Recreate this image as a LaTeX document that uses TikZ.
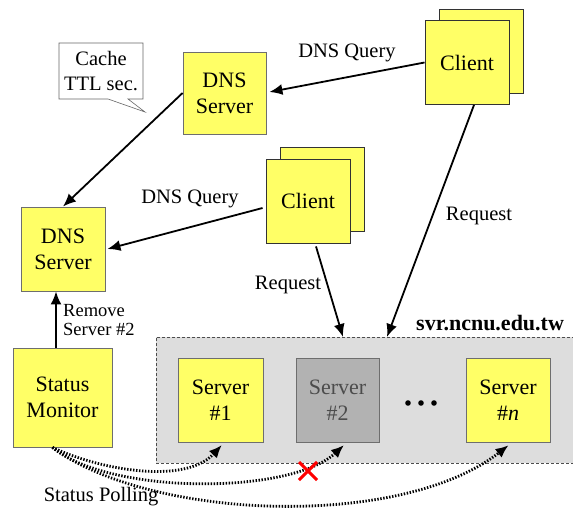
\documentclass[tikz,border=0pt]{standalone}
\usepackage{fontspec}
\setmainfont{Liberation Serif}
\usetikzlibrary{arrows.meta,calc}

\definecolor{boxyellow}{HTML}{FFFF66}
\definecolor{boxedge}{HTML}{6E6E6E}
\definecolor{panelfill}{HTML}{DDDDDD}
\definecolor{downfill}{HTML}{B2B2B2}

\tikzset{
  unit/.style={draw=boxedge, line width=0.9pt, fill=boxyellow, minimum width=84pt,
    minimum height=84pt, inner sep=0pt, align=center,
    font=\fontsize{22}{26}\selectfont},
  downunit/.style={unit, fill=downfill, text=black!70},
  lbl/.style={font=\fontsize{20.5}{24}\selectfont, inner sep=0pt},
  flow/.style={line width=1.8pt, -{Latex[length=13pt,width=11pt]}},
  poll/.style={line width=2.8pt, dash pattern=on 1.4pt off 1.6pt,
    -{Latex[length=13pt,width=11pt]}, shorten >=-2pt},
}

\begin{document}
\begin{tikzpicture}[x=1pt,y=-1pt]
\useasboundingbox (0,0) rectangle (573,508);
\begin{scope}
\clip (0,0) rectangle (573,508);

% server farm behind the domain name
\node[draw=black!70, dash pattern=on 3pt off 2pt, line width=0.7pt, fill=panelfill,
  minimum width=424pt, minimum height=126pt, inner sep=0pt] (farm) at (368,400) {};
\node[anchor=west, font=\fontsize{22}{26}\selectfont\bfseries, inner sep=0pt]
  (farmname) at (416,323) {svr.ncnu.edu.tw};

% clients (stacked boxes)
\node[unit, draw=black!80] (tcback) at (481,51) {};
\node[unit, draw=black!80] (tc) at (467,62.5) {Client};
\node[unit, draw=black!80] (mcback) at (322,189.5) {};
\node[unit, draw=black!80] (mc) at (308,201) {Client};

% DNS servers
\node[unit, minimum width=83pt, minimum height=82pt] (tdns) at (224.5,93) {DNS\\Server};
\node[unit] (ldns) at (63,249) {DNS\\Server};

% status monitor
\node[unit, minimum width=99pt, minimum height=99pt] (sm) at (62.5,397.5) {Status\\Monitor};

% servers
\node[unit, minimum width=85pt] (s1) at (220.5,400) {Server\\\#1};
\node[downunit, minimum width=83pt] (s2) at (337.5,400) {Server\\\#2};
\node[unit] (sn) at (508,400) {Server\\\#\textit{n}};
\foreach \dx [count=\i] in {408,421,434}
  \fill (\dx,403) circle (2.8pt) coordinate (dot\i);

% cache callout
\draw[draw=black!60, fill=white, line width=0.6pt]
  (59,43) -- (143,43) -- (143,99) -- (128,99) -- (145,112) -- (108,99) -- (59,99) -- cycle;
\node[lbl, align=center, font=\fontsize{20.5}{25}\selectfont] (cache) at (101,71) {Cache\\TTL sec.};

% DNS queries
\draw[flow] (tc.west) -- ($(tdns.east)+(3,-1)$);
\node[lbl] (q1) at (347,53) {DNS Query};
\draw[flow] (tdns.west) -- (ldns.north);
\draw[flow] ($(mc.west)+(-3,7)$) -- ($(ldns.east)+(2,0)$);
\node[lbl] (q2) at (190,199) {DNS Query};

% requests into the farm
\coordinate (in1) at (343,337);
\coordinate (in2) at (387,337);
\draw[flow] ($(mc.south)+(8,3)$) -- (in1);
\node[lbl] (r1) at (288,285) {Request};
\draw[flow] ($(tc.south)+(7,0)$) -- (in2);
\node[lbl] (r2) at (479,216) {Request};

% monitor updates DNS
\draw[flow] ($(sm.north)+(-6.5,0)$) -- ($(ldns.south)+(-7,0)$);
\node[lbl, anchor=west, align=left, font=\fontsize{18.5}{19}\selectfont]
  (rm) at (63,320) {Remove\\Server \#2};

% status polling
\coordinate (p0) at ($(sm.south)+(-10,0)$);
\draw[poll] (p0) .. controls (100,470) and (185,485) .. ($(s1.south)+(0,4)$);
\draw[poll] (p0) .. controls (110,495) and (290,495) .. ($(s2.south)+(5,4)$);
\draw[poll] (p0) .. controls (150,520) and (400,530) .. ($(sn.south)+(-1,4)$);
\node[lbl] (poll) at (101,497) {Status Polling};

% failed probe
\coordinate (fail) at (308,471);
\draw[red, line width=3pt] ($(fail)+(-9,-9)$) -- ($(fail)+(9,9)$)
  ($(fail)+(-9,9)$) -- ($(fail)+(9,-9)$);
\end{scope}
\end{tikzpicture}
\end{document}
